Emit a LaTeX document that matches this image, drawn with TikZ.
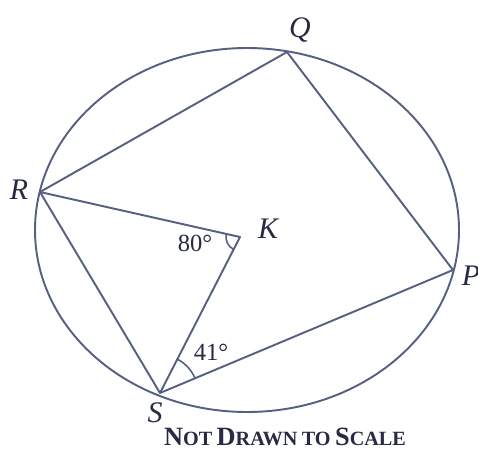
\documentclass[tikz,border=0pt]{standalone}
\usepackage{fontspec}
\setmainfont{Liberation Serif}
\usetikzlibrary{angles}
\definecolor{ink}{RGB}{86,96,128}
\definecolor{labelink}{RGB}{38,42,66}
\tikzset{seg/.style={draw=ink, line width=1.1pt, line join=round}}
\tikzset{vlabel/.style={font=\fontsize{17}{17}\selectfont\itshape, text=labelink, inner sep=0pt}}
\tikzset{deglabel/.style={font=\fontsize{14}{14}\selectfont, text=labelink, inner sep=0pt}}
\tikzset{anglemark/.style={draw=ink, line width=0.9pt}}

\begin{document}
\begin{tikzpicture}[x=0.02cm, y=-0.02cm]
  \useasboundingbox (0,0) rectangle (478,451);
  % Kreis
  \draw[seg] (247,230) ellipse [x radius=212, y radius=182];

  % Punkte
  \coordinate (Q) at (287,52);
  \coordinate (R) at (40,192);
  \coordinate (K) at (240,237);
  \coordinate (P) at (453,270);
  \coordinate (S) at (160,393);

  % Viereck und Radien
  \draw[seg] (R) -- (Q) -- (P) -- (S) -- cycle;
  \draw[seg] (R) -- (K) -- (S);

  % Winkel
  \pic[anglemark, angle radius=0.28cm] {angle = R--K--S};
  \pic[anglemark, angle radius=0.76cm] {angle = P--S--K};

  % Beschriftungen
  \node[vlabel] (lQ) at (300,30) {Q};
  \node[vlabel] (lR) at (19,190) {R};
  \node[vlabel] (lK) at (268,229) {K};
  \node[vlabel] (lP) at (471,276) {P};
  \node[vlabel] (lS) at (155,413) {S};
  \node[deglabel] (a80) at (195,243) {80°};
  \node[deglabel] (a41) at (211,352) {41°};
  \node[font=\bfseries, text=labelink, inner sep=0pt] (note) at (285,437)
    {{\fontsize{15}{15}\selectfont N}{\fontsize{11.5}{11.5}\selectfont OT}
     {\fontsize{15}{15}\selectfont D}{\fontsize{11.5}{11.5}\selectfont RAWN}
     {\fontsize{11.5}{11.5}\selectfont TO}
     {\fontsize{15}{15}\selectfont S}{\fontsize{11.5}{11.5}\selectfont CALE}};
\end{tikzpicture}
\end{document}
